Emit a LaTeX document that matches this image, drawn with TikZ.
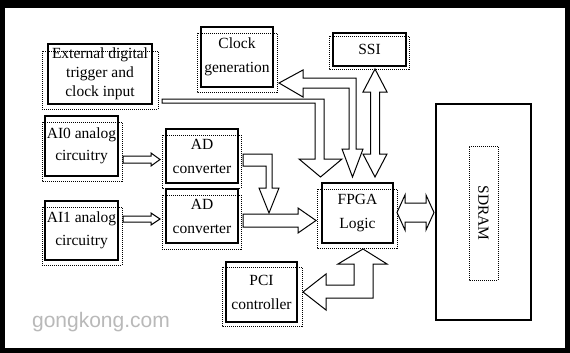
\documentclass[tikz,border=0pt]{standalone}
\usepackage{fontspec}
\setmainfont{Liberation Serif}
\newfontfamily\markfont{Liberation Sans}

\begin{document}
\begin{tikzpicture}[
x=1pt,y=-1pt,
box/.style={draw,line width=1.1pt,align=center,inner sep=0pt,font=\fontsize{15.5}{24}\selectfont},
textframe/.style={draw,line width=0.8pt,dash pattern=on 1pt off 1pt},
fat/.style={draw,fill=white,line width=1pt}
]
\fill[black] (0,0) rectangle (570,353);
\fill[white] (5,8) rectangle (565,348);
\draw[textframe] (42,51) rectangle (158,109);
\draw[textframe] (197,33) rectangle (277,92);
\draw[textframe] (329,36) rectangle (409,69);
\draw[textframe] (42,122) rectangle (122,181);
\draw[textframe] (162,135) rectangle (241,188);
\draw[textframe] (162,195) rectangle (241,249);
\draw[textframe] (42,207) rectangle (122,265);
\draw[textframe] (222,267) rectangle (302,326);
\draw[textframe] (317,189) rectangle (397,248);
\node[box,minimum width=104,minimum height=60,font=\fontsize{15.5}{19}\selectfont] (trigger) at (100,74) {External digital\\trigger and\\clock input};
\node[box,minimum width=72,minimum height=60] (clockgen) at (237,57) {Clock\\generation};
\node[box,minimum width=73,minimum height=33] (ssi) at (369.5,49.5) {SSI};
\node[box,minimum width=73,minimum height=60,font=\fontsize{15.5}{22}\selectfont] (ai0) at (81.5,146) {AI0 analog\\circuitry};
\node[box,minimum width=72,minimum height=54] (adc0) at (202,156) {AD\\converter};
\node[box,minimum width=72,minimum height=54] (adc1) at (202,216) {AD\\converter};
\node[box,minimum width=73,minimum height=59,font=\fontsize{15.5}{23}\selectfont] (ai1) at (81.5,230.5) {AI1 analog\\circuitry};
\node[box,minimum width=71,minimum height=60] (pci) at (261.5,292) {PCI\\controller};
\node[box,minimum width=71,minimum height=60] (fpga) at (357.5,213) {FPGA\\Logic};
\node[box,minimum width=95,minimum height=216] (sdram) at (483.5,212) {};
\node[textframe,rotate=-90,minimum width=134,minimum height=29,inner sep=0pt,font=\fontsize{15.5}{24}\selectfont] (sdramlabel) at (483.5,213) {SDRAM};
\node[font=\markfont\fontsize{21}{21}\selectfont,text=gray!55] (watermark) at (101,322) {gongkong.com};
\draw[fat] (123,156) -- (151,156) -- (151,153) -- (160,159.5) -- (151,166) -- (151,163) -- (123,163) -- cycle;
\draw[fat] (123,216) -- (151,216) -- (151,213) -- (160,219) -- (151,225) -- (151,222) -- (123,222) -- cycle;
\draw[fat] (243,154) -- (272,154) -- (272,188) -- (279,188) -- (269,213) -- (259,188) -- (266,188) -- (266,166) -- (243,166) -- cycle;
\draw[fat] (243,214) -- (298,214) -- (298,208) -- (316,220.5) -- (298,233) -- (298,227) -- (243,227) -- cycle;
\draw[fat] (397,212.5) -- (405,195) -- (405,203) -- (426,203) -- (426,195) -- (434,212.5) -- (426,230) -- (426,222) -- (405,222) -- (405,230) -- cycle;
\draw[fat] (162,99) -- (324,99) -- (324,159) -- (342,159) -- (320.5,177) -- (299,159) -- (315,159) -- (315,103) -- (162,103) -- cycle;
\draw[fat] (279,83) -- (303,70) -- (303,78) -- (356,78) -- (356,149) -- (363,149) -- (352.5,177) -- (342,149) -- (349,149) -- (349,88) -- (303,88) -- (303,97) -- cycle;
\draw[fat] (375,69) -- (387,92) -- (379.5,92) -- (379.5,154) -- (387,154) -- (375,177) -- (363,154) -- (370.5,154) -- (370.5,92) -- (363,92) -- cycle;
\draw[fat] (363,249) -- (387,264) -- (373,264) -- (373,298) -- (326,298) -- (326,310) -- (303,292) -- (326,274) -- (326,285) -- (354,285) -- (354,264) -- (338,264) -- cycle;
\end{tikzpicture}
\end{document}
